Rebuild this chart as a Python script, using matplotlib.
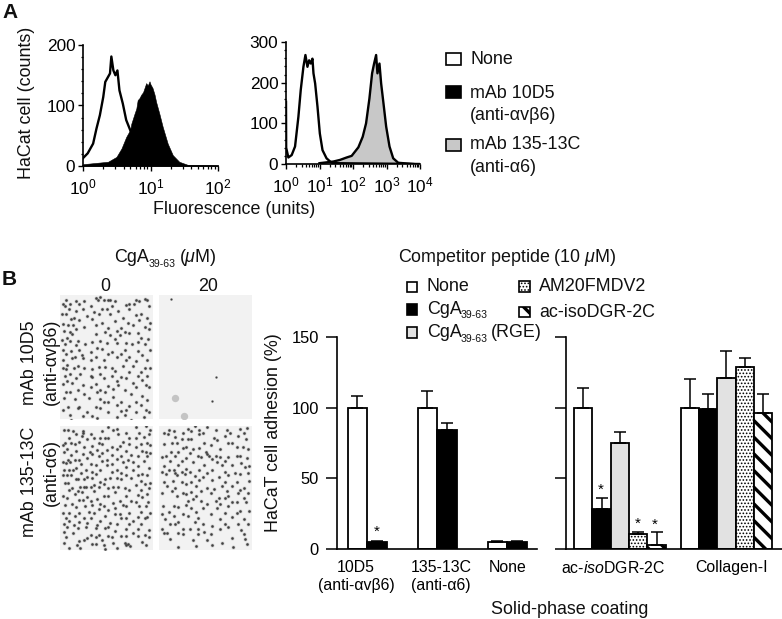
import matplotlib
matplotlib.use("Agg")
import matplotlib.pyplot as plt
import numpy as np
from matplotlib.patches import Rectangle
from matplotlib.ticker import LogLocator, NullFormatter, MultipleLocator
from matplotlib.transforms import Affine2D

W, H = 782, 619
plt.rcParams.update({
    'font.family': ['Liberation Sans', 'DejaVu Sans'],
    'mathtext.fontset': 'custom', 'mathtext.rm': 'Liberation Sans',
    'mathtext.it': 'Liberation Sans:italic', 'mathtext.bf': 'Liberation Sans:bold',
    'mathtext.default': 'regular',
})

# ---------- panel A data (log10 of fluorescence, counts) ----------
a1_none_log = [0.00,0.07,0.15,0.20,0.25,0.30,0.33,0.40,0.42,0.45,0.48,0.51,0.54,0.59,0.64,0.69,0.74,0.80,0.90,1.00]
a1_none_cnt = [13,21,37,62,84,114,139,153,181,158,150,158,125,103,76,62,48,30,10,3]
a1_mab_log = [0,0.37,0.495,0.57,0.64,0.70,0.716,0.765,0.79,0.81,0.835,0.863,0.89,0.936,0.96,0.985,1.0,1.03,1.06,1.083,1.13,1.18,1.255,1.33,1.426,1.55,2.0]
a1_mab_cnt = [3,7,15,29,48,60,70,87,95,109,112,118,122,137,133,140,135,129,118,106,87,65,37,18,7,2,1]
a2_none_log = [0,0.005,0.07,0.17,0.27,0.37,0.44,0.52,0.58,0.64,0.69,0.74,0.79,0.82,0.87,0.94,1.01,1.09,1.21,1.36,1.5,4.0]
a2_none_cnt = [153,40,16,22,43,116,182,239,268,239,255,247,259,223,198,141,75,34,14,3,2,0]
a2_mab_log = [1.0,1.41,1.61,1.81,1.96,2.16,2.29,2.39,2.49,2.57,2.63,2.69,2.73,2.79,2.84,2.91,2.99,3.09,3.2,3.35,3.8]
a2_mab_cnt = [2,6,10,16,20,41,67,100,161,223,247,268,223,247,198,149,92,43,14,3,0]

# ---------- panel B bars ----------
left_groups = ['10D5\n(anti-αvβ6)', '135-13C\n(anti-α6)', 'None']
left_none = [100, 100, 5]
left_none_err = [8, 12, 1]
left_cga = [5, 84, 5]
left_cga_err = [1, 5, 1]
right_groups = ['ac-$\\mathit{iso}$DGR-2C', 'Collagen-I']
iso_vals = [100, 28, 75, 10.5, 3]
iso_err = [14, 8, 8, 1.5, 9]
col_vals = [100, 99, 121, 129, 96]
col_err = [20, 11, 19, 6, 14]

# ---------- micrograph cells, read by eye: row y -> x positions (zoom px of a 288x381 crop) ----------
cells_tl = {
 10:[20,110,125,150,170,235,262], 22:[8,30,48,75,118,135,155,215,245,270], 36:[14,60,95,130,160,205,230,275],
 50:[5,28,50,72,105,145,180,215,250], 66:[18,42,85,120,155,195,235,268], 80:[8,35,58,100,130,170,210,245,278],
 95:[25,40,75,110,150,190,225,262], 110:[12,30,48,140,175,200,240,275], 125:[22,38,110,155,185,215,250],
 140:[5,30,55,100,125,170,205,240,272], 155:[15,48,78,115,145,178,222,262], 170:[8,35,60,95,130,160,200,240,280],
 185:[20,45,68,110,150,190,215,255], 200:[10,38,72,95,135,175,205,235,270], 215:[22,55,75,120,160,195,225,262],
 230:[8,18,42,100,140,170,215,250,280], 245:[15,30,62,95,125,160,190,240,270], 260:[22,50,100,135,175,205,255],
 275:[8,38,70,110,150,180,225,265], 290:[18,55,95,125,165,200,235,275], 305:[30,75,115,140,165,220,255],
 320:[12,45,90,125,150,190,235,270], 335:[25,60,110,135,175,215,250], 350:[10,55,85,125,190,205,265],
 365:[30,70,100,150,200,235,275], 375:[35,115,175,220,260],
}
cells_bl = {
 8:[25,70,150,175,235,265,280], 20:[12,40,70,130,165,205,245,275], 32:[28,50,68,95,125,140,180,215,260],
 45:[15,35,60,85,105,120,150,195,235,270], 58:[8,45,75,100,130,160,185,215,250,280], 72:[22,50,92,115,145,175,205,235,265],
 85:[12,35,70,100,130,160,190,220,255,278], 100:[25,45,60,85,120,145,175,210,240,270], 115:[8,18,30,65,95,130,160,195,225,260],
 128:[12,28,48,80,110,145,175,205,240,275], 142:[22,40,65,100,125,160,190,225,255], 155:[10,35,55,85,110,140,175,205,240,270],
 168:[25,48,75,100,125,155,190,220,250,280], 182:[15,38,62,80,105,135,165,200,235,262], 195:[28,55,75,95,120,150,180,215,250,275],
 208:[10,45,68,105,135,170,205,240,268], 222:[22,60,85,115,150,185,220,255], 236:[38,70,95,125,165,195,235,272],
 250:[15,48,78,100,135,170,205,245,265], 263:[8,28,60,90,120,150,185,215,250,280], 276:[18,45,75,105,140,170,205,240,270],
 290:[28,60,95,125,155,190,225,262], 303:[12,42,85,115,150,175,215,250], 316:[22,55,80,110,140,170,205,240,275],
 330:[12,40,95,120,150,190,225,262], 345:[20,60,85,112,130,160,205,240,275], 358:[12,52,75,110,135,165,200,212,255],
 372:[28,62,100,140,175,205,218,265],
}
cells_br = {
 8:[30,90,100,112,125,150,210,250,272], 20:[15,45,75,135,175,220,262], 33:[28,48,90,125,170,205,245],
 46:[40,70,100,140,180,215,270], 60:[15,55,85,125,160,225,260], 73:[38,75,105,145,190,240,275],
 87:[22,60,95,130,150,175,215,250], 100:[10,50,85,120,155,165,190,240,272], 114:[35,70,105,140,180,205,255,280],
 128:[15,45,60,85,125,165,195,225,265], 142:[10,30,48,70,95,150,205,235,275], 156:[22,55,80,110,135,185,215,250],
 170:[15,42,70,100,125,165,205,240,280], 184:[25,48,85,115,150,195,225,262], 198:[10,40,75,100,130,170,210,250],
 212:[55,85,115,160,185,215,245,275], 226:[90,105,130,175,205,225,262], 240:[12,45,85,150,190,240,270],
 254:[60,100,135,180,215,250], 268:[10,30,75,115,160,205,240,278], 282:[20,45,90,120,190,225,262],
 296:[35,60,110,135,205,245], 310:[10,48,75,120,165,215,275], 324:[25,60,95,140,190,255],
 338:[15,75,120,160,225,262], 352:[35,105,150,195,265], 368:[60,115,165,230,272],
}
cells_tr = {8:[38], 258:[176], 330:[165]}
smudges_tr_x = [48, 78]
smudges_tr_y = [315, 372]

fig = plt.figure(figsize=(W/100, H/100), dpi=100)
LW = 1.2
px = Affine2D().scale(1, -1).translate(0, H)  # pixel coordinates, y downwards
FS = 12.9
SUB = 7.6

def axes_px(l, t, r, b):
    ax = fig.add_axes([l/W, 1-b/H, (r-l)/W, (b-t)/H])
    ax.patch.set_alpha(0)
    for s in ['top', 'right']:
        ax.spines[s].set_visible(False)
    for s in ['left', 'bottom']:
        ax.spines[s].set_linewidth(LW)
    return ax

def label(x, y, s, ha='left', size=FS, rot=0, **kw):
    fig.text(x/W, 1-y/H, s, ha=ha, va='center', fontsize=size, rotation=rot, color='#111111', **kw)

def hatch_lw(hatch):
    return 2.4 if hatch and '\\' in hatch else 0.75

def swatch(l, t, r, b, fc, hatch=None):
    with plt.rc_context({'hatch.linewidth': hatch_lw(hatch)}):
        fig.add_artist(Rectangle((l, t), r-l, b-t, transform=px, facecolor=fc, edgecolor='k',
                                 linewidth=1.2, hatch=hatch))

def hist_axes(box, xlim, ylim, yticks, yminor, xticks):
    ax = axes_px(*box)
    ax.set_xscale('log'); ax.set_xlim(*xlim); ax.set_ylim(*ylim)
    ax.set_yticks(yticks); ax.yaxis.set_minor_locator(MultipleLocator(yminor))
    ax.set_xticks(xticks)
    ax.set_xticklabels(['$10^{%d}$' % round(np.log10(v)) for v in xticks], fontsize=FS-0.5)
    ax.xaxis.set_minor_locator(LogLocator(10, subs=range(2, 10), numticks=12))
    ax.xaxis.set_minor_formatter(NullFormatter())
    ax.tick_params(axis='both', which='major', length=3.5, width=1, labelsize=FS-0.5, pad=2)
    ax.tick_params(axis='both', which='minor', length=1.8, width=0.9)
    ax.tick_params(axis='x', which='major', pad=5)
    return ax

# Panel A left
ax = hist_axes((83, 45, 218, 166), (1, 100), (0, 200), [0, 100, 200], 20, [1, 10, 100])
ax.plot(10**np.array(a1_none_log), a1_none_cnt, color='k', lw=1.7)
xm = 10**np.array(a1_mab_log)
ax.fill_between(xm, a1_mab_cnt, 0, color='k', lw=0.4)

# Panel A right
ax = hist_axes((286, 42, 420, 164), (1, 10000), (0, 300), [0, 100, 200, 300], 20, [1, 10, 100, 1000, 10000])
ax.plot(10**np.array(a2_none_log), a2_none_cnt, color='k', lw=1.7)
xm = 10**np.array(a2_mab_log)
ax.fill_between(xm, a2_mab_cnt, 0, facecolor='#c8c8c8', edgecolor='none')
ax.plot(xm, a2_mab_cnt, color='k', lw=1.7)

label(2, 12, 'A', size=15, fontweight='bold')
label(27, 103, 'HaCat cell (counts)', ha='center', rot=90)
label(234, 210, 'Fluorescence (units)', ha='center')
swatch(446, 53, 461, 65, 'white')
swatch(446, 86, 461, 98, 'black')
swatch(446, 139, 461, 151, '#c8c8c8')
label(470, 59, 'None')
label(470, 93, 'mAb 10D5')
label(470, 115, '(anti-αvβ6)')
label(470, 145, 'mAb 135-13C')
label(470, 167, '(anti-α6)')

# Panel B micrographs
label(2, 279, 'B', size=15, fontweight='bold')
for box, cells in [((60, 295, 153, 419), cells_tl), ((159, 295, 252, 419), cells_tr),
                   ((60, 426, 153, 550), cells_bl), ((159, 426, 252, 550), cells_br)]:
    a = fig.add_axes([box[0]/W, 1-box[3]/H, (box[2]-box[0])/W, (box[3]-box[1])/H])
    a.set_xlim(0, 288); a.set_ylim(381, 0); a.axis('off')
    a.add_patch(Rectangle((0, 0), 288, 381, facecolor='#f2f2f2', edgecolor='none'))
    xs = [v for k, r in cells.items() for v in r]
    # stagger each cell off its reading row so the rows do not show as lines
    ys = [k + (v*v*11 + k*5) % 17 - 8 for k, r in cells.items() for v in r]
    s = 2.0 if cells is cells_tr else 3.4
    a.scatter(xs, ys, s=s*2.4, c='#808080', alpha=0.35, linewidths=0)
    a.scatter(xs, ys, s=s, c='#404040', linewidths=0)
    if cells is cells_tr:
        a.scatter(smudges_tr_x, smudges_tr_y, s=28, c='#c4c4c4', linewidths=0)

label(114, 258, 'CgA')
label(149, 264, '39-63', size=SUB)
label(179, 258, '($\\mathit{\\mu}$M)')
label(105, 286, '0', ha='center')
label(208, 286, '20', ha='center')
label(29, 363, 'mAb 10D5', ha='center', rot=90)
label(51, 362, '(anti-αvβ6)', ha='center', rot=90)
label(29, 482, 'mAb 135-13C', ha='center', rot=90)
label(51, 472, '(anti-α6)', ha='center', rot=90)

# Panel B bars, one x unit = one pixel
BW = 19.7
STY = [dict(facecolor='white'), dict(facecolor='black'), dict(facecolor='#e2e2e2'),
       dict(facecolor='white', hatch='.....'), dict(facecolor='white', hatch='\\\\')]

def bars(ax, xs, vals, errs, styles, bw=BW):
    for x0, v, e, st in zip(xs, vals, errs, styles):
        with plt.rc_context({'hatch.linewidth': hatch_lw(st.get('hatch'))}):
            ax.bar(x0, v, width=bw, align='edge', edgecolor='k', linewidth=1.3, zorder=2, **st)
        ax.errorbar(x0+bw/2, v, yerr=[[0], [e]], color='k', elinewidth=1.1, capsize=4.5, capthick=1.1, zorder=3)

def bar_axes(l, r):
    ax = axes_px(l, 337, r, 549)
    ax.set_xlim(l, r); ax.set_ylim(0, 150)
    ax.set_yticks([0, 50, 100, 150])
    ax.tick_params(axis='y', length=8, width=1.1, labelsize=FS-1, pad=5)
    ax.tick_params(axis='x', length=0, labelsize=FS-1.5, pad=8)
    return ax

ax = bar_axes(337, 537)
starts = [347.5, 417.5, 487.5]
bars(ax, starts, left_none, left_none_err, [STY[0]]*3)
bars(ax, [s+BW for s in starts], left_cga, left_cga_err, [STY[1]]*3)
ax.set_xticks([356, 441, 508]); ax.set_xticklabels(left_groups)
ax.text(376.5, 7, '*', ha='center', va='bottom', fontsize=11)

ax = bar_axes(566, 782)
starts = [574, 680.5]
bars(ax, [starts[0]+i*18.35 for i in range(5)], iso_vals, iso_err, STY, bw=18.35)
bars(ax, [starts[1]+i*18.35 for i in range(5)], col_vals, col_err, STY, bw=18.35)
ax.set_xticks([613, 732]); ax.set_xticklabels(right_groups)
ax.set_yticklabels([])
for xp, yv in [(601, 37), (638, 13), (655, 12.5)]:
    ax.text(xp, yv, '*', ha='center', va='bottom', fontsize=11)

label(273, 433, 'HaCaT cell adhesion (%)', ha='center', rot=90)
label(570, 609, 'Solid-phase coating', ha='center')
label(507, 258, 'Competitor peptide (10 $\\mathit{\\mu}$M)', ha='center')
swatch(407, 282, 417, 292, 'white')
swatch(407, 304, 417, 315, 'black')
swatch(407, 327, 417, 338, '#e2e2e2')
swatch(519, 281, 530, 292, 'white', '.....')
swatch(519, 307, 530, 317, 'white', '\\\\')
label(427, 286, 'None')
label(427, 309, 'CgA')
label(461, 315, '39-63', size=SUB)
label(427, 333, 'CgA')
label(461, 339, '39-63', size=SUB)
label(491, 333, '(RGE)')
label(539, 286, 'AM20FMDV2')
label(539, 312, 'ac-isoDGR-2C')

fig.savefig('out.png', dpi=100)
